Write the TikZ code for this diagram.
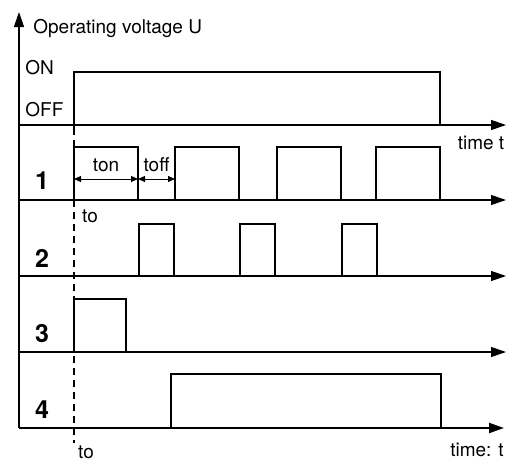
\documentclass[tikz,border=0pt]{standalone}
\usepackage{fontspec}
\setmainfont{TeX Gyre Heros}
\usetikzlibrary{arrows.meta,positioning}
\tikzset{
  >={Triangle[length=7.5pt,width=5pt]},
  every picture/.style={line join=miter},
  axis/.style={->, draw=black, line width=0.6pt},
  wave/.style={draw=black, line width=0.6pt},
  lbl/.style={font=\fontsize{9.5}{11}\selectfont, inner sep=0pt},
  chan/.style={font=\fontsize{12.5}{14}\selectfont\bfseries, inner sep=0pt},
  guide/.style={draw=black, line width=0.6pt, dash pattern=on 3.5pt off 2.5pt},
  dim/.style={{Triangle[length=3.5pt,width=3pt]}-{Triangle[length=3.5pt,width=3pt]}, line width=0.5pt},
}
\begin{document}
\begin{tikzpicture}[x=0.5pt,y=-0.5pt]
  \useasboundingbox (0,0) rectangle (508,461);
  % ---------------- axes ----------------
  \coordinate (o) at (19,428);
  \coordinate (top) at (19,12);
  \draw[axis] (o) -- (top);
  \foreach \y/\n in {125/0,200/1,276/2,352/3} {
    \coordinate (b\n) at (19,\y);
    \coordinate (e\n) at (506,\y);
    \draw[axis] (b\n) -- (e\n);
  }
  \coordinate (e4) at (504,428);
  \draw[axis, line width=1pt] (o) -- (e4);

  % ---------------- labels ----------------
  \node[lbl, anchor=west] (ylab) at (33,28) {Operating voltage U};
  \node[lbl, anchor=west] (on) at (25,68) {ON};
  \node[lbl, anchor=west] (off) at (25,110) {OFF};
  \node[lbl] (time1) at (481,143) {time t};
  \node[lbl] (time2) at (477,450) {time: t};
  \foreach \n/\y in {1/181,2/258,3/334,4/410}
    \node[chan] (ch\n) at (42,\y) {\n};

  % ---------------- operating voltage ----------------
  \draw[wave] (74,130) -- (74,72) -- (440,72) -- (440,125);
  \draw[line width=1pt] (74,125) -- (440,125);

  % ---------------- 1: pulses ----------------
  \foreach \x in {74,175,277,376}
    \draw[wave] (\x,200) -- (\x,147) -- (\x+64,147) -- (\x+64,200);
  \coordinate (d0) at (74,179);
  \coordinate (d1) at (138,179);
  \coordinate (d2) at (175,179);
  \draw[dim] (d0) -- node[lbl, above=3.5pt] (ton) {ton} (d1);
  \draw[dim] (d1) -- node[lbl, above=3.5pt] (toff) {toff} (d2);

  % ---------------- 2: pulses in the pauses ----------------
  \foreach \x in {139,240,342}
    \draw[wave] (\x,276) -- (\x,224) -- (\x+35,224) -- (\x+35,276);

  % ---------------- 3 and 4 ----------------
  \draw[wave] (74,352) -- (74,299) -- (126,299) -- (126,352);
  \draw[wave] (171,428) -- (171,374) -- (441,374) -- (441,428);

  % ---------------- start time ----------------
  \coordinate (g0) at (74,128);
  \coordinate (g1) at (74,443);
  \draw[guide] (g0) -- (g1);
  \node[lbl] (to1) at (90,216) {to};
  \node[lbl] (to2) at (86,452) {to};
\end{tikzpicture}
\end{document}
